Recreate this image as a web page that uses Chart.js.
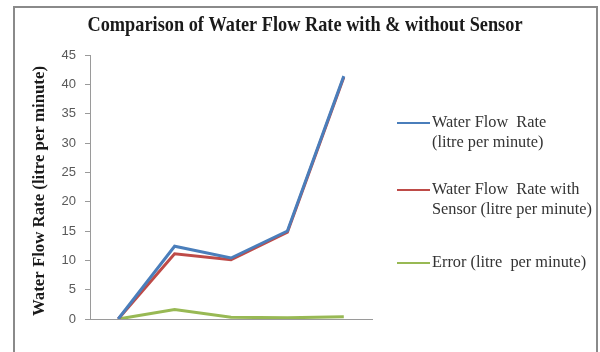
<!DOCTYPE html>
<html>
<head>
<meta charset="utf-8">
<script src="https://cdn.jsdelivr.net/npm/chart.js@4/dist/chart.umd.min.js"></script>
<style>
  html, body { margin: 0; padding: 0; background: #ffffff; }
  #wrap { width: 600px; height: 352px; position: relative; }
</style>
</head>
<body>
<div id="wrap"><canvas id="c" width="600" height="352"></canvas></div>
<script>
// Measurement points (no axis labels are printed)
const categories = ['1', '2', '3', '4', '5'];

// Flow rates in litre per minute
const flowRate = [0, 12.4, 10.4, 15.0, 41.4];
const flowRateSensor = [0, 11.1, 10.1, 14.8, 41.2];
const errorRate = [0, 1.6, 0.3, 0.2, 0.4];

// Legend text, one entry per series, split into lines
const legendLines = [
  ['Water Flow  Rate', '(litre per minute)'],
  ['Water Flow  Rate with', 'Sensor (litre per minute)'],
  ['Error (litre  per minute)']
];

const yTicks = [0, 5, 10, 15, 20, 25, 30, 35, 40, 45];

const chartTitle = 'Comparison of Water Flow Rate with & without Sensor';
const yAxisTitle = 'Water Flow Rate (litre per minute)';

const serif = '"Liberation Serif", "Times New Roman", serif';

// Draws text centred at (cx, cy), squeezed horizontally to a given width
function drawFitted(ctx, text, cx, cy, width, font, color, angle) {
  ctx.save();
  ctx.font = font;
  ctx.fillStyle = color;
  ctx.textAlign = 'center';
  ctx.textBaseline = 'middle';
  const w = ctx.measureText(text).width;
  ctx.translate(cx, cy);
  if (angle) ctx.rotate(angle);
  ctx.scale(width / w, 1);
  ctx.fillText(text, 0, 0);
  ctx.restore();
}

// Grey frame around the whole figure plus the titles
const framePlugin = {
  id: 'frame',
  beforeDraw(chart) {
    const ctx = chart.ctx;
    ctx.save();
    ctx.fillStyle = '#ffffff';
    ctx.fillRect(0, 0, chart.width, chart.height);
    ctx.strokeStyle = '#8a8a8a';
    ctx.lineWidth = 2;
    ctx.strokeRect(14, 7, 583, 360);
    ctx.restore();
  },
  afterDraw(chart) {
    const ctx = chart.ctx;
    drawFitted(ctx, chartTitle, 305, 26, 435, 'bold 21px ' + serif, '#1a1a1a', 0);
    drawFitted(ctx, yAxisTitle, 40, 191, 250, 'bold 16px ' + serif, '#1a1a1a', -Math.PI / 2);
  }
};

// Legend on the right with wrapped labels
const sideLegend = {
  id: 'sideLegend',
  afterDraw(chart) {
    const ctx = chart.ctx;
    const x0 = 397, x1 = 430, tx = 432;
    const rowsY = [123, 190, 263];
    ctx.save();
    ctx.font = '16px ' + serif;
    ctx.textBaseline = 'middle';
    ctx.textAlign = 'left';
    chart.data.datasets.forEach((ds, i) => {
      const y = rowsY[i];
      ctx.strokeStyle = ds.borderColor;
      ctx.lineWidth = 2;
      ctx.beginPath();
      ctx.moveTo(x0, y);
      ctx.lineTo(x1, y);
      ctx.stroke();
      ctx.fillStyle = '#333333';
      legendLines[i].forEach((line, j) => {
        ctx.save();
        ctx.translate(tx, y + j * 20);
        ctx.scale(1.02, 1);
        ctx.fillText(line, 0, 0);
        ctx.restore();
      });
    });
    ctx.restore();
  }
};

new Chart(document.getElementById('c'), {
  type: 'line',
  data: {
    labels: categories,
    datasets: [
      { label: legendLines[0].join(' '), data: flowRate, borderColor: '#4a7ebb', borderWidth: 3, pointRadius: 0, tension: 0 },
      { label: legendLines[1].join(' '), data: flowRateSensor, borderColor: '#be4b48', borderWidth: 3, pointRadius: 0, tension: 0 },
      { label: legendLines[2].join(' '), data: errorRate, borderColor: '#98b954', borderWidth: 3, pointRadius: 0, tension: 0 }
    ]
  },
  options: {
    responsive: false,
    animation: false,
    layout: { padding: { left: 30, right: 228, top: 55, bottom: 25 } },
    plugins: {
      legend: { display: false },
      tooltip: { enabled: false },
      title: { display: false }
    },
    scales: {
      x: {
        offset: true,
        ticks: { display: false },
        grid: { display: false },
        border: { display: true, color: '#9a9a9a', width: 1 }
      },
      y: {
        min: 0,
        max: 45,
        afterBuildTicks(scale) { scale.ticks = yTicks.map(v => ({ value: v })); },
        afterFit(scale) { scale.width = 60; },
        ticks: {
          color: '#595959',
          font: { family: '"Liberation Sans", Arial, sans-serif', size: 13 },
          padding: 9
        },
        grid: { drawOnChartArea: false, drawTicks: true, tickLength: 5, color: '#9a9a9a' },
        border: { display: true, color: '#9a9a9a', width: 1 }
      }
    }
  },
  plugins: [framePlugin, sideLegend]
});
</script>
</body>
</html>
